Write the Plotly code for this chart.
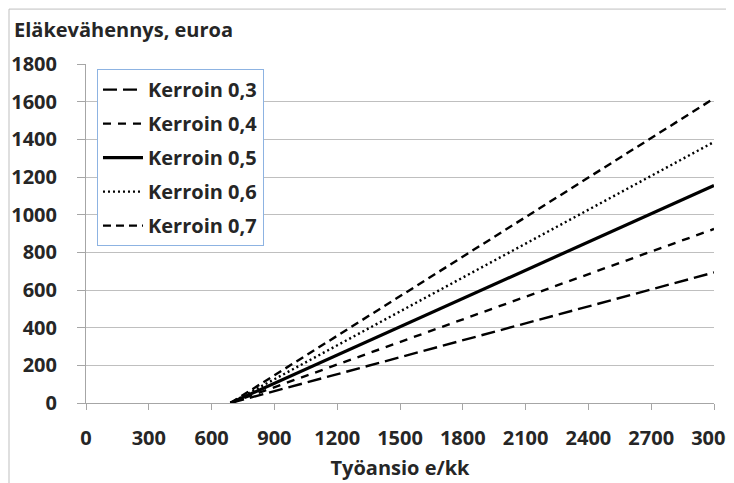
import plotly.graph_objects as go

income = [690, 3000]
series_names = ["Kerroin 0,3", "Kerroin 0,4", "Kerroin 0,5", "Kerroin 0,6", "Kerroin 0,7"]
reduction_03 = [0, 693]
reduction_04 = [0, 924]
reduction_05 = [0, 1155]
reduction_06 = [0, 1386]
reduction_07 = [0, 1617]
x_ticks = [0, 300, 600, 900, 1200, 1500, 1800, 2100, 2400, 2700, 3000]
y_ticks = [0, 200, 400, 600, 800, 1000, 1200, 1400, 1600, 1800]

values = [reduction_03, reduction_04, reduction_05, reduction_06, reduction_07]
dashes = ["14px,6px", "8px,7px", "solid", "2px,3px", "8px,5px"]
widths = [2.4, 2.4, 3.2, 2.4, 2.4]

FONT = "'Open Sans', Lato, sans-serif"
TXT = "#262626"
FS = 20

fig = go.Figure()
for i, (name, vals) in enumerate(zip(series_names, values)):
    fig.add_trace(go.Scatter(
        x=income, y=vals, mode="lines", name=name,
        legendgroup=str(i),
        line=dict(color="black", width=widths[i], dash=dashes[i]),
    ))

fig.update_layout(
    width=734, height=483,
    margin=dict(l=78, r=28, t=56, b=88),
    paper_bgcolor="white", plot_bgcolor="white",
    font=dict(family=FONT, size=FS, color=TXT),
    showlegend=True,
    legend=dict(
        x=0.0175, y=0.985, xanchor="left", yanchor="top",
        bordercolor="#8DB3E2", borderwidth=1, bgcolor="white",
        font=dict(family=FONT, size=20, color=TXT, weight="bold"),
        tracegroupgap=5,
        itemwidth=40,
    ),
    xaxis=dict(
        range=[0, 3000], tickvals=x_ticks, ticktext=[str(v) for v in x_ticks],
        showgrid=False, zeroline=False, automargin=False,
        showline=True, linecolor="#A6A6A6", linewidth=1,
        ticks="outside", ticklen=6, tickcolor="#A6A6A6",
        ticklabelstandoff=11, ticklabeloverflow="allow",
        tickfont=dict(family=FONT, size=FS, color=TXT, weight="bold"),
        title=dict(text="Työansio e/kk", font=dict(family=FONT, size=FS, color=TXT, weight="bold"), standoff=10),
    ),
    yaxis=dict(
        range=[0, 1800], tickvals=y_ticks,
        showgrid=True, gridcolor="#BFBFBF", gridwidth=1,
        zeroline=False, automargin=False,
        showline=True, linecolor="#A6A6A6", linewidth=1,
        ticks="outside", ticklen=8, tickcolor="#A6A6A6",
        ticklabelstandoff=16,
        tickfont=dict(family=FONT, size=FS, color=TXT, weight="bold"),
    ),
    annotations=[dict(
        text="Eläkevähennys, euroa", xref="paper", yref="paper",
        x=-0.1178, y=1.1003, xanchor="left", yanchor="middle", showarrow=False,
        font=dict(family=FONT, size=FS, color=TXT, weight="bold"),
    )],
    shapes=[dict(
        type="rect", xref="paper", yref="paper",
        x0=-0.1226, x1=1.3, y0=-0.6, y1=1.162,
        line=dict(color="#BFBFBF", width=1), fillcolor="rgba(0,0,0,0)", layer="below",
    )],
)

fig.write_html("out.html")
